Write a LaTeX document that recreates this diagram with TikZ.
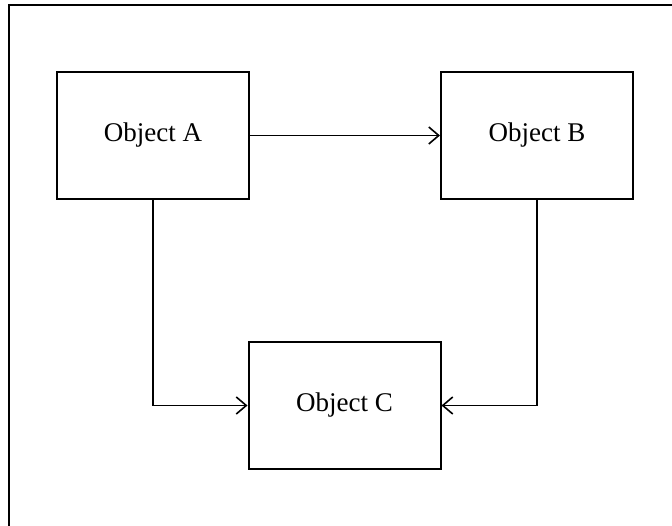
\documentclass[tikz,border=0pt]{standalone}
\usepackage{fontspec}
\setmainfont{Liberation Serif}
\usetikzlibrary{arrows.meta}
\begin{document}
\begin{tikzpicture}[x=1pt,y=-1pt,
  objbox/.style={draw=black,line width=2pt,minimum width=192pt,minimum height=127pt,
    inner sep=0pt,font=\fontsize{27}{31}\selectfont},
  link/.style={draw=black,line width=1.6pt,-{Straight Barb[length=10pt,width=17pt,line width=1.6pt]}}]
\useasboundingbox (0,0) rectangle (672,526);
% frame around the figure
\draw[line width=2pt] (8.5,530) -- (8.5,5.3) -- (676,5.3);
% objects
\node[objbox] (A) at (153,135.5) {Object A};
\node[objbox] (B) at (537,135.5) {Object B};
\node[objbox] (C) at (344.5,405.5) {Object C};
% connectors
\draw[link] (A.east) -- (B.west);
\draw[link] (A.south) |- (C.west);
\draw[link] (B.south) |- (C.east);
\end{tikzpicture}
\end{document}
